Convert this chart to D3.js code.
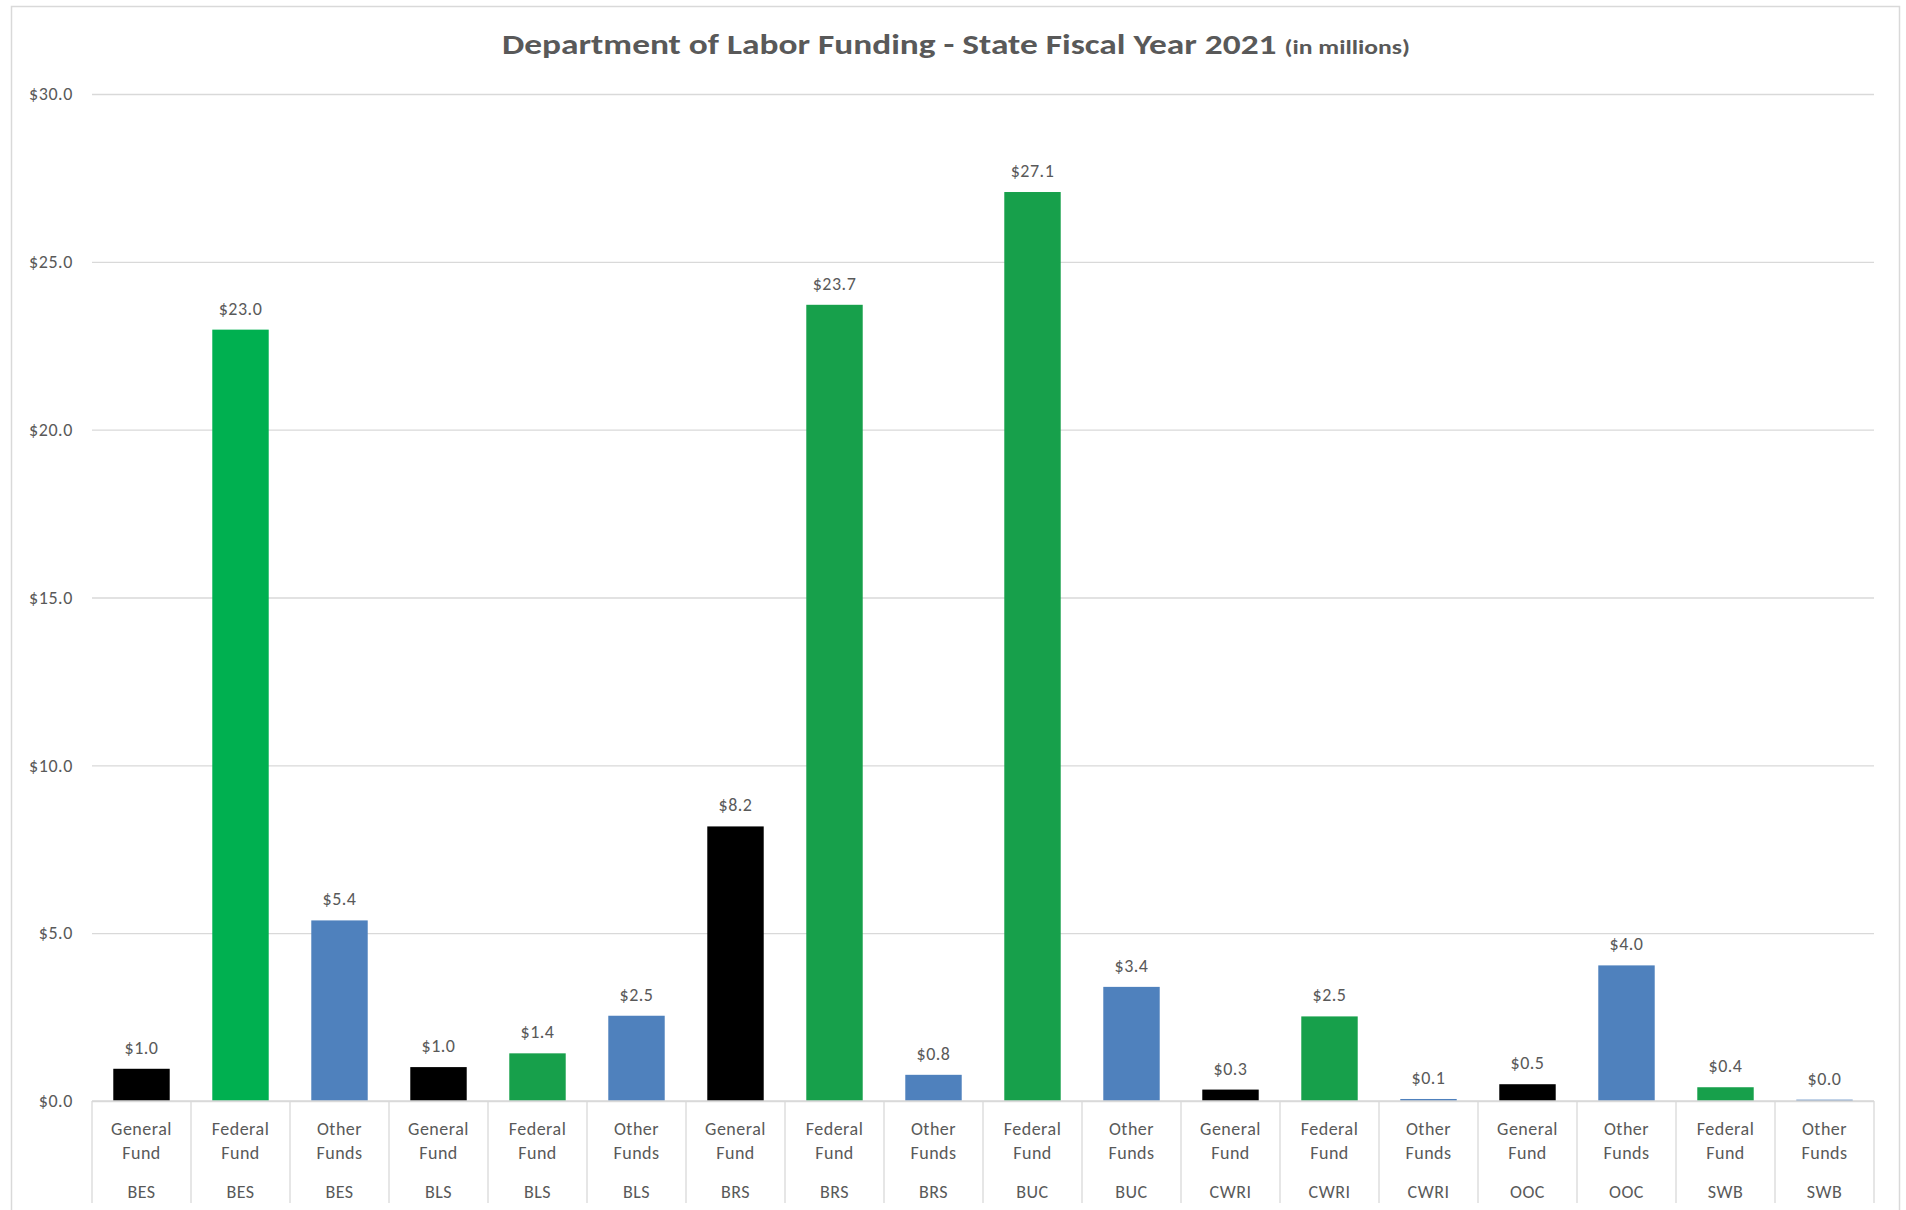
<!DOCTYPE html>
<html>
<head>
<meta charset="utf-8">
<script src="https://cdn.jsdelivr.net/npm/d3@7"></script>
<style>
  body { margin: 0; background: #fff; }
  svg { display: block; font-family: Carlito, Calibri, Lato, sans-serif; }
</style>
</head>
<body>
<svg width="1906" height="1210"></svg>
<script>
// data (values in $ millions)
const divisions = ["BES", "BES", "BES", "BLS", "BLS", "BLS", "BRS", "BRS", "BRS",
                   "BUC", "BUC", "CWRI", "CWRI", "CWRI", "OOC", "OOC", "SWB", "SWB"];
const funds = ["General Fund", "Federal Fund", "Other Funds",
               "General Fund", "Federal Fund", "Other Funds",
               "General Fund", "Federal Fund", "Other Funds",
               "Federal Fund", "Other Funds",
               "General Fund", "Federal Fund", "Other Funds",
               "General Fund", "Other Funds",
               "Federal Fund", "Other Funds"];
const amounts = [0.96, 22.98, 5.38, 1.01, 1.42, 2.54, 8.18, 23.72, 0.78,
                 27.08, 3.40, 0.34, 2.52, 0.06, 0.50, 4.04, 0.41, 0.04];
const yTicks = [0, 5, 10, 15, 20, 25, 30];

const svg = d3.select("svg");
const width = 1906;
const margin = { top: 94, right: 32, bottom: 109, left: 92 };
const plotBottom = 1101;
const textColor = "#595959";
const gridColor = "#D9D9D9";

// outer chart border (runs off the bottom like the screenshot)
svg.append("rect")
    .attr("x", 11.5).attr("y", 6.5)
    .attr("width", 1888).attr("height", 1220)
    .attr("fill", "#fff")
    .attr("stroke", gridColor)
    .attr("stroke-width", 1.5);

const x = d3.scaleBand()
    .domain(d3.range(amounts.length))
    .range([margin.left, width - margin.right])
    .paddingInner(0.43)
    .paddingOuter(0.215);

const y = d3.scaleLinear()
    .domain([0, 30])
    .range([plotBottom, margin.top]);

const color = d3.scaleOrdinal()
    .domain(["General Fund", "Federal Fund", "Other Funds"])
    .range(["#000000", "#17A04B", "#4F81BD"]);
// BES federal bar is drawn in the brighter Excel green
const colorOverride = { "BES Federal Fund": "#00B050" };

// ===== GRIDLINES + Y AXIS =====
const yAxis = d3.axisLeft(y)
    .tickValues(yTicks)
    .tickSize(-(width - margin.right - margin.left))
    .tickPadding(19)
    .tickFormat(d => "$" + d3.format(".1f")(d));

const yg = svg.append("g")
    .attr("transform", `translate(${margin.left},0)`)
    .call(yAxis);
yg.select(".domain").remove();
yg.selectAll(".tick line").attr("stroke", gridColor).attr("stroke-width", 1.3);
yg.selectAll(".tick text")
    .attr("fill", textColor)
    .style("font-family", "Carlito, Calibri, Lato, sans-serif")
    .style("font-size", "18px")
    .style("letter-spacing", "0.6px");

// ===== BARS =====
svg.append("g").selectAll("rect")
    .data(amounts)
    .join("rect")
    .attr("x", (d, i) => x(i))
    .attr("y", d => y(d))
    .attr("width", x.bandwidth())
    .attr("height", d => y(0) - y(d))
    .attr("fill", (d, i) => colorOverride[divisions[i] + " " + funds[i]] || color(funds[i]));

// data labels
svg.append("g").selectAll("text")
    .data(amounts)
    .join("text")
    .attr("x", (d, i) => x(i) + x.bandwidth() / 2)
    .attr("y", d => y(d) - 15)
    .attr("text-anchor", "middle")
    .attr("fill", textColor)
    .style("font-size", "18px")
    .style("letter-spacing", "0.5px")
    .text(d => "$" + d3.format(".1f")(d));

// ===== CATEGORY AXIS (two levels) =====
const cat = svg.append("g");
cat.append("line")
    .attr("x1", margin.left).attr("x2", width - margin.right)
    .attr("y1", y(0)).attr("y2", y(0))
    .attr("stroke", gridColor).attr("stroke-width", 1.3);

const step = x.step();
cat.selectAll("line.sep")
    .data(d3.range(amounts.length + 1))
    .join("line")
    .attr("class", "sep")
    .attr("x1", i => margin.left + i * step)
    .attr("x2", i => margin.left + i * step)
    .attr("y1", y(0)).attr("y2", 1203)
    .attr("stroke", gridColor).attr("stroke-width", 1.3);

const catLabel = cat.selectAll("g.lbl")
    .data(d3.range(amounts.length))
    .join("g")
    .attr("class", "lbl")
    .attr("transform", i => `translate(${x(i) + x.bandwidth() / 2},0)`)
    .attr("fill", textColor)
    .attr("text-anchor", "middle")
    .style("font-size", "18px")
    .style("letter-spacing", "0.5px");

catLabel.append("text").attr("y", 1135).text(i => funds[i].split(" ")[0]);
catLabel.append("text").attr("y", 1159).text(i => funds[i].split(" ")[1]);
catLabel.append("text").attr("y", 1198).text(i => divisions[i]);

// ===== TITLE =====
// the source image is a little stretched sideways, so widen the title to match
const titleG = svg.append("g")
    .attr("transform", "translate(956,54) scale(1.22,1)");
const title = titleG.append("text")
    .attr("text-anchor", "middle")
    .attr("fill", textColor)
    .style("font-weight", "bold");
title.append("tspan").style("font-size", "29px")
    .text("Department of Labor Funding - State Fiscal Year 2021 ");
title.append("tspan").style("font-size", "21px")
    .text("(in millions)");
</script>
</body>
</html>
